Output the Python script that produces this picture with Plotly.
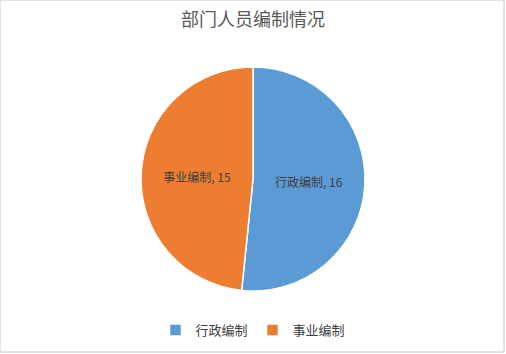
import plotly.graph_objects as go

labels = ["行政编制", "事业编制"]
values = [16, 15]
colors = ["#5B9BD5", "#ED7D31"]

W, H = 506, 354
fig = go.Figure(go.Pie(
    labels=labels,
    values=values,
    sort=False,
    direction="clockwise",
    rotation=0,
    marker=dict(colors=colors, line=dict(color="white", width=1.5)),
    texttemplate="%{label}, %{value}",
    textposition="inside",
    insidetextorientation="horizontal",
    textfont=dict(family="Noto Sans CJK SC", size=12, color="#404040"),
    hoverinfo="label+value+percent",
    domain=dict(x=[0, 1], y=[(H - 291) / H, (H - 67) / H]),
))

fig.update_layout(
    width=W, height=H,
    margin=dict(l=0, r=0, t=0, b=0),
    paper_bgcolor="white",
    title=dict(text="部门人员编制情况", x=0.5, xanchor="center", y=1 - 20 / H, yanchor="middle",
               font=dict(family="Noto Sans CJK SC", size=18, color="#595959")),
    legend=dict(orientation="h", x=0.5, xanchor="center", y=(H - 330) / H, yanchor="middle",
                font=dict(family="Noto Sans CJK SC", size=13, color="#404040"),
                itemwidth=30),
    shapes=[dict(type="rect", xref="paper", yref="paper", x0=0, x1=1 - 2 / W, y0=2 / H, y1=1,
                 line=dict(color="#D9D9D9", width=1.5), fillcolor="rgba(0,0,0,0)")],
)

fig.write_html("out.html")
